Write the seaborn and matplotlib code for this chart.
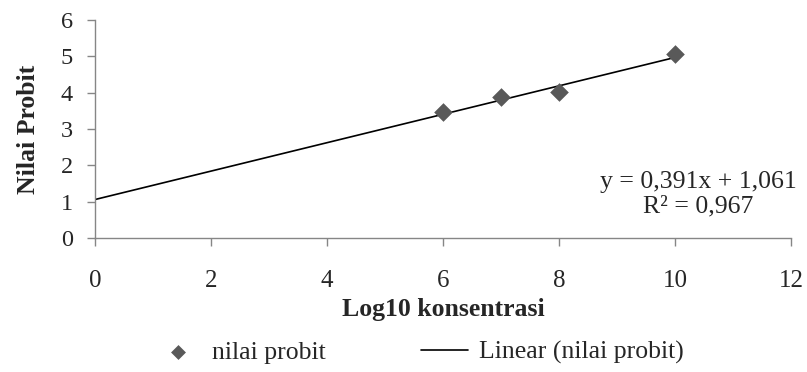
import numpy as np
import pandas as pd
import matplotlib
matplotlib.use("Agg")
import matplotlib.pyplot as plt
import seaborn as sns

# Data
log10_konsentrasi = [6, 7, 8, 10]
nilai_probit = [3.46, 3.87, 4.01, 5.06]
slope = 0.391
intercept = 1.061
r2 = 0.967
trend_x = [0, 10]
x_ticks = [0, 2, 4, 6, 8, 10, 12]
y_ticks = [0, 1, 2, 3, 4, 5, 6]

sns.set_theme(style="white")
plt.rcParams['font.family'] = ['Liberation Serif', 'DejaVu Serif']

df = pd.DataFrame({"x": log10_konsentrasi, "y": nilai_probit})
trend = pd.DataFrame({"x": trend_x, "y": [slope * v + intercept for v in trend_x]})

fig = plt.figure(figsize=(8.07, 3.72), dpi=100)
ax = fig.add_axes([0.1177, 0.360, 0.8623, 0.586])

sns.lineplot(data=trend, x="x", y="y", ax=ax, color="black", linewidth=1.2,
             label="Linear (nilai probit)", zorder=2)
sns.scatterplot(data=df, x="x", y="y", ax=ax, marker="D", s=90, color="#595959",
                edgecolor="#595959", linewidth=0, label="nilai probit", zorder=3)

ax.set_xlim(0, 12)
ax.set_ylim(0, 6)
ax.set_xticks(x_ticks)
ax.set_yticks(y_ticks)
ax.tick_params(axis="both", length=6, width=1, color="#868686",
               direction="out", bottom=True, left=True)
ax.tick_params(axis="x", labelsize=18, pad=17)
ax.tick_params(axis="y", labelsize=17.5, pad=10)
for s in ["top", "right"]:
    ax.spines[s].set_visible(False)
for s in ["left", "bottom"]:
    ax.spines[s].set_color("#868686")
    ax.spines[s].set_linewidth(1)

ax.set_xlabel("Log10 konsentrasi", fontsize=18.5, fontweight="bold", labelpad=4.5)
ax.set_ylabel("Nilai Probit", fontsize=18.5, fontweight="bold", labelpad=15)

ax.text(10.4, 1.21, f"y = {slope:.3f}x + {intercept:.3f}".replace(".", ",") + "\n" +
        f"R² = {r2:.3f}".replace(".", ","),
        ha="center", va="center", fontsize=18.5, linespacing=1.1)

handles, labels = ax.get_legend_handles_labels()
order = [labels.index("nilai probit"), labels.index("Linear (nilai probit)")]
ax.legend([handles[i] for i in order], [labels[i] for i in order],
          loc="center", bbox_to_anchor=(0.466, -0.525), ncol=2, frameon=False,
          fontsize=18.5, markerscale=0.8, columnspacing=3.7, handlelength=1.83,
          handletextpad=0.43, borderaxespad=0, borderpad=0)

fig.savefig("out.png", dpi=100)
